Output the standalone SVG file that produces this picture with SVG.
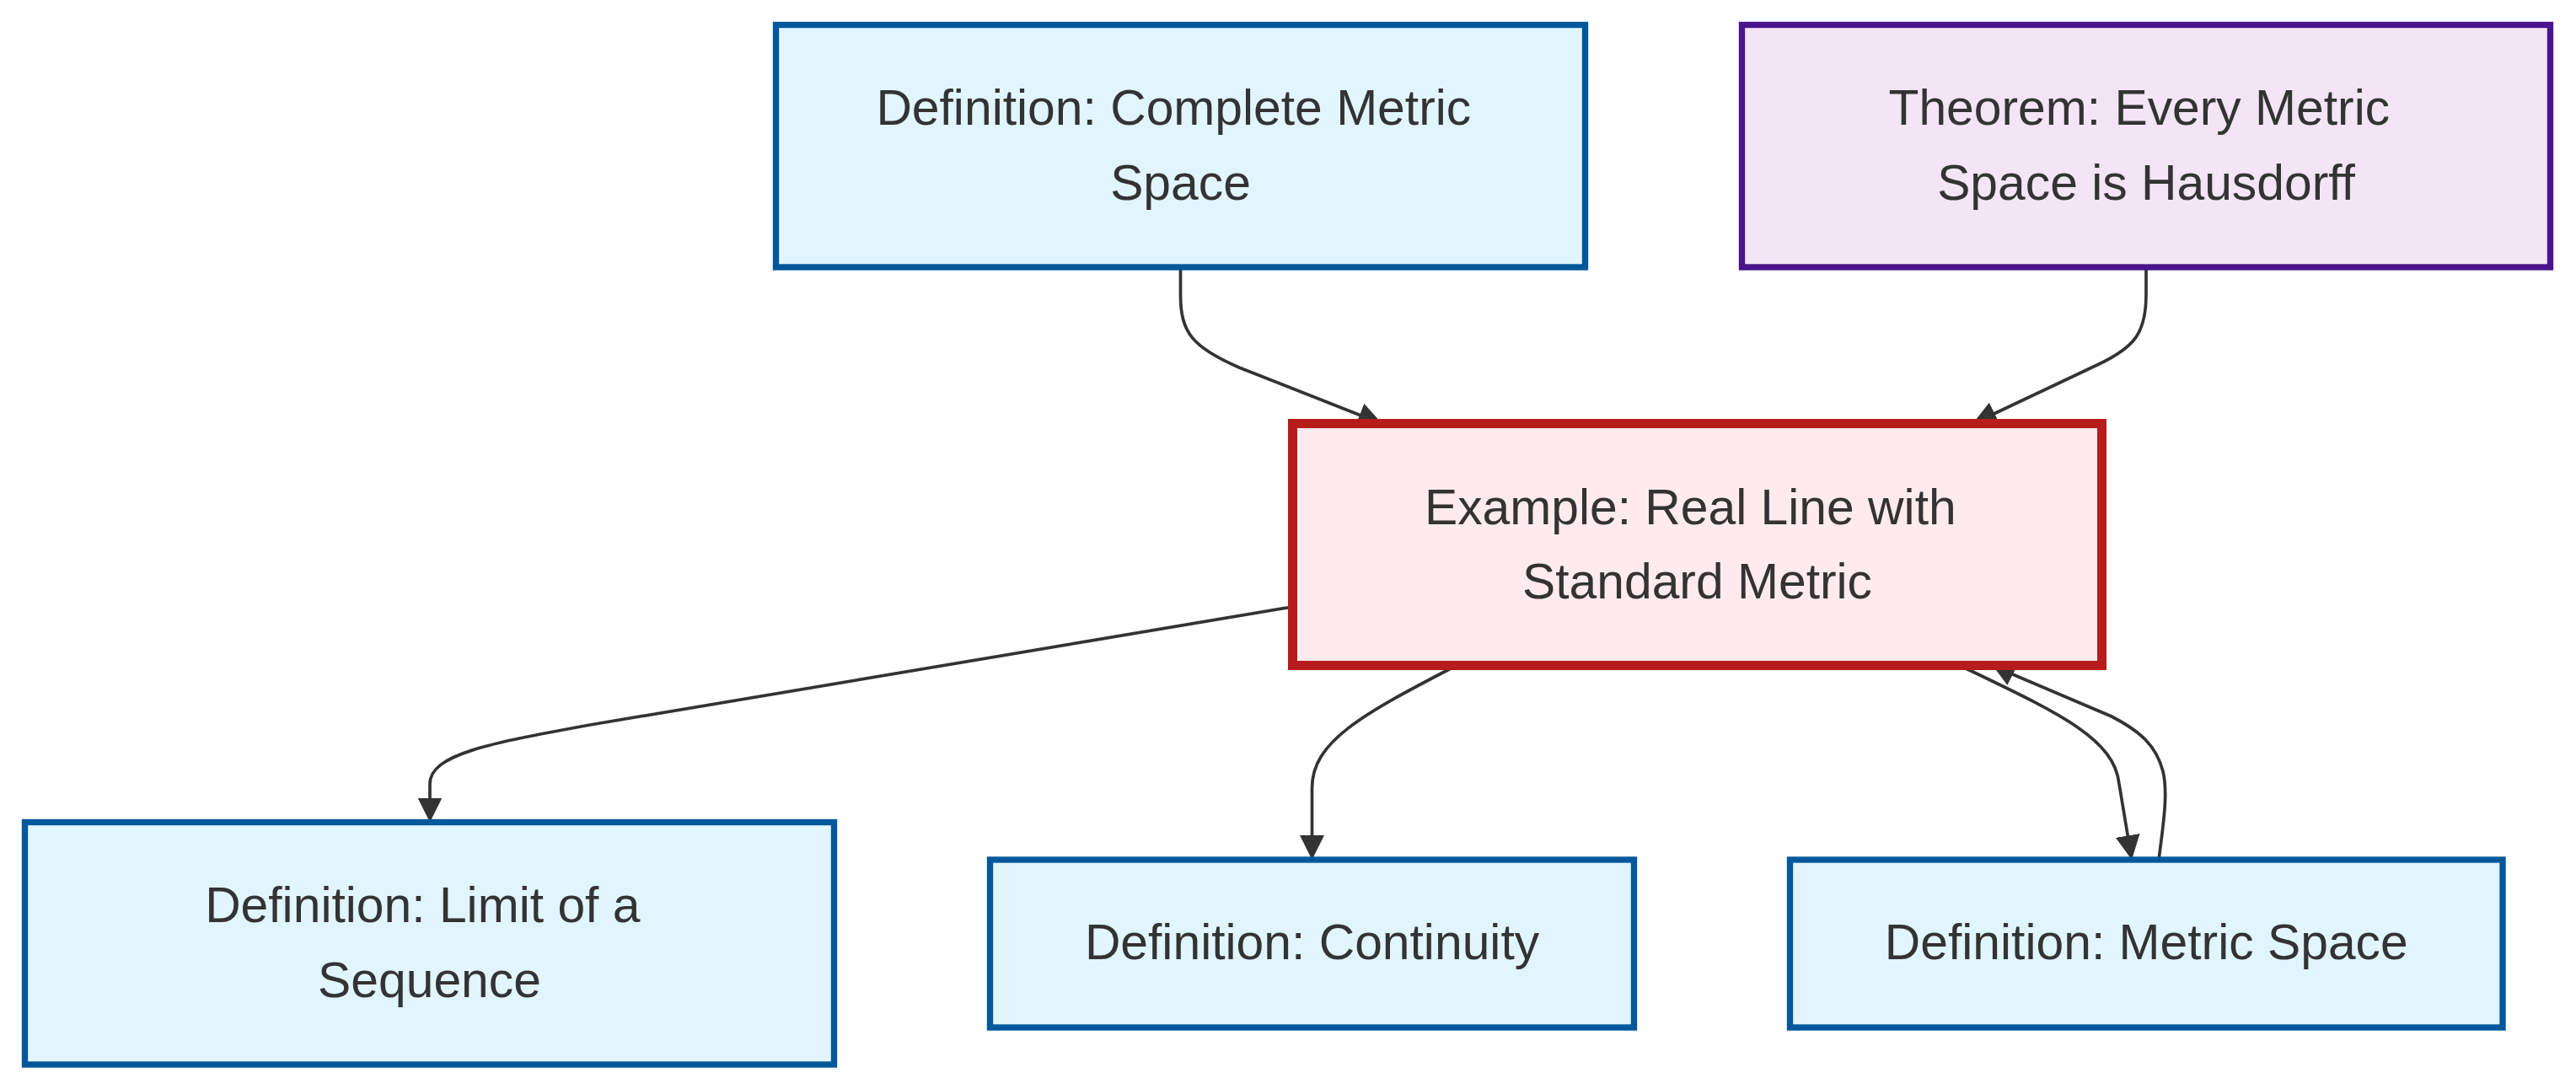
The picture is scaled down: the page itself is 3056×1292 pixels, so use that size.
<svg xmlns="http://www.w3.org/2000/svg" width="3056" height="1292" viewBox="0 0 3056 1292">
<style>
.def rect{fill:#E1F5FE;stroke:#01579B;stroke-width:7.35}
.thm rect{fill:#F3E5F5;stroke:#4A148C;stroke-width:7.35}
.ex rect{fill:#FFEBEE;stroke:#B71C1C;stroke-width:11}
text{font-family:"Liberation Sans",Arial,sans-serif;font-size:58.8px;fill:#333333;text-anchor:middle}
.edge{fill:none;stroke:#333333;stroke-width:3.7;marker-end:url(#arrow)}
</style>
<defs>
<marker id="arrow" viewBox="0 0 10 10" refX="10" refY="5" markerUnits="userSpaceOnUse" markerWidth="29" markerHeight="29" orient="auto">
<path d="M0,0 L10,5 L0,10 z" fill="#333333"/>
</marker>
</defs>
<rect width="3056" height="1292" fill="#ffffff"/>
<g id="connectors">
<path class="edge" d="M1400.5,317 L1400.5,350 C1400.5,395 1415,412 1470,436 L1640,503"/>
<path class="edge" d="M2546,317 L2546,350 C2546,395 2532,412 2490,432 L2340,503"/>
<path class="edge" d="M1533,720 L700,860 C580,882 510,895 510,930 L510,975.5"/>
<path class="edge" d="M1727,790 C1615,848 1556.5,880 1556.5,935 L1556.5,1020"/>
<path class="edge" d="M2326,790 C2440,845 2508,875 2514,930 L2529,1020"/>
<path class="edge" d="M2561,1020 C2567,975 2572,940 2566,915 C2558,885 2540,868 2505,850 L2390,801 L2362,787"/>
</g>
<g id="node-complete" class="def">
<rect x="920.5" y="29.5" width="960" height="287.5"/>
<text x="1392.3" y="148.3">Definition: Complete Metric</text>
<text x="1400.5" y="236.6">Space</text>
</g>
<g id="node-theorem" class="thm">
<rect x="2066.5" y="29.5" width="959" height="287.5"/>
<text x="2537.8" y="148.3">Theorem: Every Metric</text>
<text x="2546" y="236.6">Space is Hausdorff</text>
</g>
<g id="node-example" class="ex">
<rect x="1533.5" y="502.5" width="960" height="287"/>
<text x="2005.3" y="621.5">Example: Real Line with</text>
<text x="2013.5" y="709.8">Standard Metric</text>
</g>
<g id="node-limit" class="def">
<rect x="29.5" y="975.5" width="960" height="287.5"/>
<text x="501.3" y="1094.3">Definition: Limit of a</text>
<text x="509.5" y="1182.6">Sequence</text>
</g>
<g id="node-continuity" class="def">
<rect x="1174.5" y="1020" width="764" height="199"/>
<text x="1556.5" y="1138">Definition: Continuity</text>
</g>
<g id="node-metric" class="def">
<rect x="2123.5" y="1020" width="845.5" height="199"/>
<text x="2546.25" y="1138">Definition: Metric Space</text>
</g>
</svg>
